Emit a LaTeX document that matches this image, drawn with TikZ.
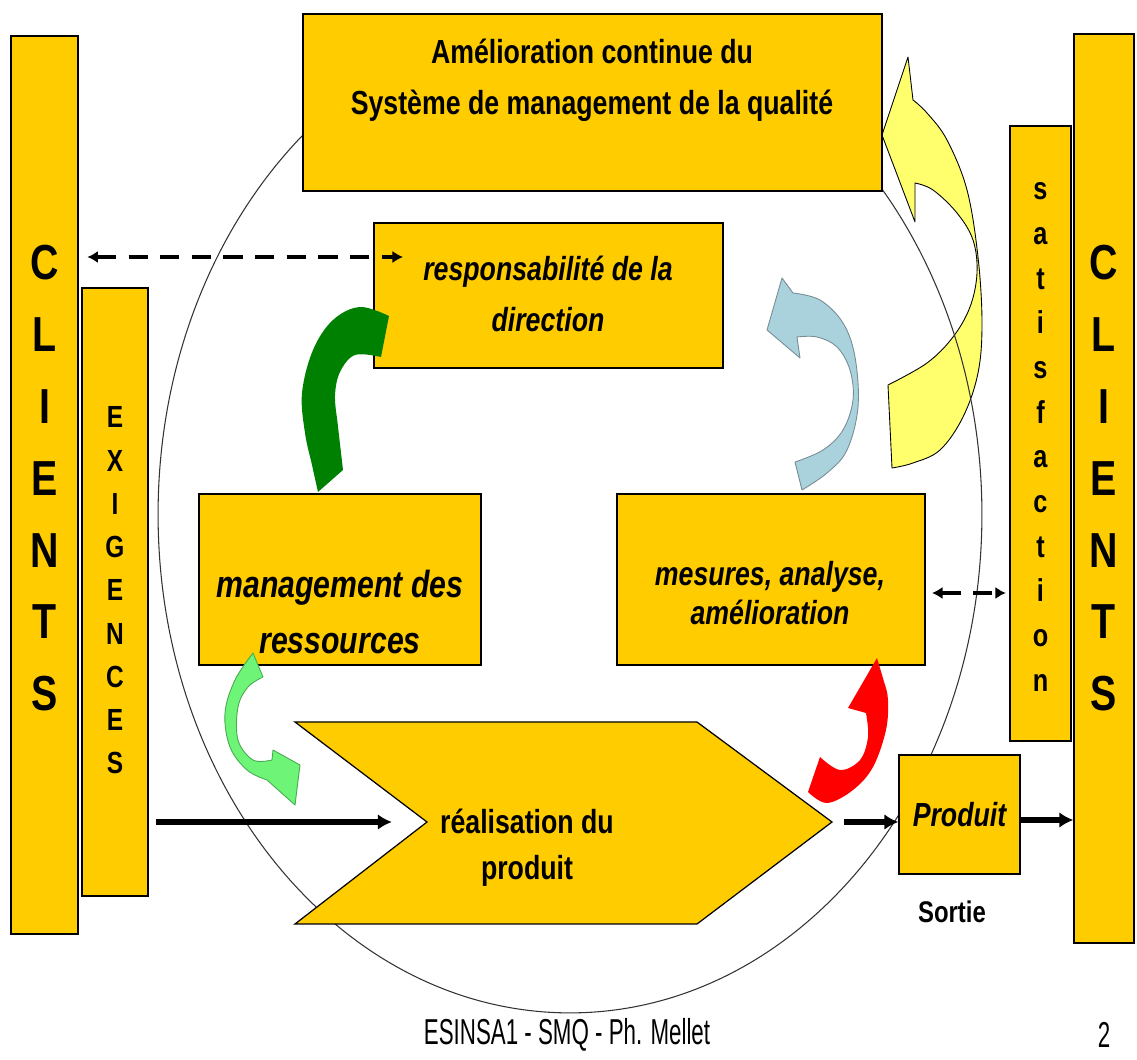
\documentclass[tikz,border=0pt]{standalone}
\usepackage{fontspec}
\setmainfont{Liberation Sans}[FakeStretch=0.8]
\newfontfamily\narrowfont{Liberation Sans}[FakeStretch=0.62]
\usetikzlibrary{arrows.meta}
\definecolor{gold}{RGB}{255,204,0}
\definecolor{dkgreen}{RGB}{0,128,0}
\definecolor{ltgreen}{RGB}{110,245,120}
\definecolor{ltgreenline}{RGB}{70,170,80}
\definecolor{ltblue}{RGB}{170,210,220}
\definecolor{ltblueline}{RGB}{120,140,150}
\definecolor{pale}{RGB}{255,255,110}
\definecolor{arrowred}{RGB}{255,0,0}
\begin{document}
\begin{tikzpicture}[x=0.02cm, y=-0.02cm,
  box/.style={draw=black, line width=0.7pt, fill=gold, inner sep=0pt},
  lbl/.style={align=center, inner sep=0pt},
  bigletter/.style={font=\bfseries\fontsize{28}{30}\selectfont, inner sep=0pt, anchor=base},
  midletter/.style={font=\bfseries\fontsize{17.4}{19}\selectfont, inner sep=0pt, anchor=base},
  smallletter/.style={font=\bfseries\fontsize{18}{20}\selectfont, inner sep=0pt, anchor=base},
  dasharrow/.style={line width=2.4pt, dash pattern=on 11pt off 7pt,
    {Latex[length=6pt,width=7pt]}-{Latex[length=6pt,width=7pt]}},
  thickarrow/.style={line width=3pt, -{Latex[length=8pt,width=9pt]}},
  ring/.style={draw=black!80, line width=0.6pt},
  curvedarrow/.style={line width=0.5pt, line join=round}]
\useasboundingbox[fill=white] (0,0) rectangle (1137,1060);

% large yellow return arrow (behind the ring line)
\filldraw[curvedarrow, fill=pale, draw=black]
  (892,468) -- plot[smooth, tension=0.6] coordinates {(892,468) (913,463) (940,450) (963,417) (978,373) (982,323) (978,257) (967,190) (947,140) (927,113) (913,100)}
  -- (908,57) -- (882,135) -- (915,222) -- (915,183)
  -- plot[smooth, tension=0.6] coordinates {(915,183) (933,190) (957,213) (973,240) (977,273) (970,307) (953,337) (927,363) (888,385)}
  -- cycle;

% the process ring
\draw[ring] (570,514.5) ellipse [x radius=8.24cm, y radius=9.97cm];

% side columns
\node[box, minimum width=1.34cm, minimum height=17.96cm] (cleft) at (44.5,485) {};
\node[box, minimum width=1.2cm, minimum height=18.18cm] (cright) at (1104,488.5) {};
\node[box, minimum width=1.32cm, minimum height=12.16cm] (exig) at (115,592) {};
\node[box, minimum width=1.22cm, minimum height=12.3cm] (satis) at (1040.5,433.5) {};

\foreach \ch [count=\i from 0] in {C,L,I,E,N,T,S} {
  \node[bigletter] (cl\i) at (44.5,{280+71.8*\i}) {\ch};
  \node[bigletter] (cr\i) at (1104,{280+71.8*\i}) {\ch};
}
\foreach \ch [count=\i from 0] in {E,X,I,G,E,N,C,E,S}
  \node[midletter] (ex\i) at (115,{428+43.25*\i}) {\ch};
\foreach \ch [count=\i from 0] in {s,a,t,i,s,f,a,c,t,i,o,n}
  \node[smallletter] (sa\i) at (1040.5,{200+44.64*\i}) {\ch};

% process boxes
\node[box, minimum width=11.58cm, minimum height=3.54cm] (amel) at (592.5,102.5) {};
\node[lbl, font=\bfseries\fontsize{19}{29}\selectfont] (ameltxt) at (592,80)
  {Amélioration continue du\\Système de management de la qualité};

\node[box, minimum width=6.98cm, minimum height=2.9cm] (resp) at (548.5,295.5) {};
\node[lbl, font=\bfseries\itshape\fontsize{19}{29.5}\selectfont] (resptxt) at (548,294)
  {responsabilité de la\\direction};

\node[box, minimum width=5.64cm, minimum height=3.42cm] (mgmt) at (340,579.5) {};
\node[lbl, font=\bfseries\itshape\fontsize{21.5}{32}\selectfont] (mgmttxt) at (340,612)
  {management des\\ressources};

\node[box, minimum width=6.16cm, minimum height=3.42cm] (mes) at (771,579.5) {};
\node[lbl, font=\bfseries\itshape\fontsize{19}{22}\selectfont] (mestxt) at (770,593)
  {mesures, analyse,\\amélioration};

% product realisation chevron
\filldraw[fill=gold, draw=black, line width=0.7pt]
  (295,722) -- (697,722) -- (832,822) -- (697,924) -- (295,924) -- (427,822) -- cycle;
\coordinate (notch) at (427,822);
\coordinate (chtip) at (832,822);
\node[lbl, font=\bfseries\fontsize{19}{26}\selectfont] (realtxt) at (527,848)
  {réalisation du\\produit};

\node[box, minimum width=2.42cm, minimum height=2.38cm,
  font=\bfseries\itshape\fontsize{19}{22}\selectfont] (prod) at (959.5,814.5) {Produit};
\node[lbl, font=\bfseries\fontsize{17}{20}\selectfont] (sortie) at (952,912) {Sortie};

% curved flow arrows
\fill[dkgreen]
  (389,316) -- plot[smooth, tension=0.6] coordinates {(389,316) (360,307) (333,320) (313,350) (302,393) (305,433) (312,465) (318,492)}
  -- (343,470) -- (337,418)
  -- plot[smooth, tension=0.6] coordinates {(337,418) (335,395) (340,372) (355,355) (381,357)}
  -- cycle;

\filldraw[curvedarrow, fill=ltgreen, draw=ltgreenline]
  (253,653) -- plot[smooth, tension=0.6] coordinates {(253,653) (235,680) (225,713) (230,747) (247,770) (267,780)}
  -- (295,805) -- (300,765) -- (273,750) -- (272,760)
  -- plot[smooth, tension=0.6] coordinates {(272,760) (253,760) (238,740) (238,707) (248,687) (263,677)}
  -- cycle;

\filldraw[curvedarrow, fill=ltblue, draw=ltblueline]
  (802,490) -- plot[smooth, tension=0.6] coordinates {(802,490) (827,473) (847,450) (858,407) (855,357) (843,323) (820,300) (793,293)}
  -- (782,278) -- (767,330) -- (800,358) -- (797,337)
  -- plot[smooth, tension=0.6] coordinates {(797,337) (817,337) (837,347) (850,370) (853,400) (843,430) (823,450) (795,462)}
  -- cycle;

\fill[arrowred]
  (808,792) -- plot[smooth, tension=0.6] coordinates {(808,792) (827,803) (853,790) (873,767) (886,730) (888,700) (885,685)}
  -- (877,658) -- (848,708) -- (866,713)
  -- plot[smooth, tension=0.6] coordinates {(866,713) (868,737) (860,760) (840,770) (820,757)}
  -- cycle;

% information and product flows
\coordinate (respin) at (403,257);
\coordinate (mesout) at (925,593);
\draw[dasharrow, shorten <=5] (cleft.east |- respin) -- (respin);
\draw[dasharrow, shorten <=4, shorten >=2] (mesout) -- (satis.west |- mesout);
\draw[thickarrow, shorten <=4, shorten >=20] (exig.east |- notch) -- (notch);
\draw[thickarrow, shorten <=7] (chtip) -- (chtip -| prod.west);
\draw[thickarrow] (prod.east |- 0,820) -- (cright.west |- 0,820);

% footer
\node[lbl, font=\narrowfont\fontsize{20.5}{22}\selectfont] (footer) at (567,1035) {ESINSA1 - SMQ - Ph. Mellet};
\node[lbl, font=\narrowfont\fontsize{20.5}{22}\selectfont] (page) at (1104,1035) {2};
\end{tikzpicture}
\end{document}
